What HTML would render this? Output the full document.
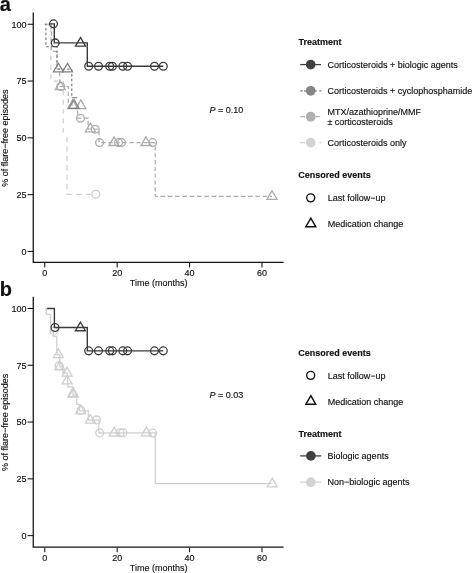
<!DOCTYPE html>
<html><head><meta charset="utf-8"><style>
html,body{margin:0;padding:0;background:#fff;width:472px;height:573px;overflow:hidden}
svg{display:block;will-change:transform}
text{font-family:"Liberation Sans",sans-serif;fill:#111;stroke:#111;stroke-width:0.15px}
</style></head><body>
<svg width="472" height="573" viewBox="0 0 472 573">
<text x="-0.2" y="11.2" font-size="20" font-weight="bold" text-anchor="start" >a</text>
<path d="M33.25,12.5V262.4H283.6" fill="none" stroke="#111" stroke-width="1.25"/>
<path d="M27.6,24.26H33" stroke="#111" stroke-width="1.05"/>
<text x="26.5" y="27.66" font-size="9" font-weight="normal" text-anchor="end" >100</text>
<path d="M27.6,81.05H33" stroke="#111" stroke-width="1.05"/>
<text x="26.5" y="84.45" font-size="9" font-weight="normal" text-anchor="end" >75</text>
<path d="M27.6,137.84H33" stroke="#111" stroke-width="1.05"/>
<text x="26.5" y="141.24" font-size="9" font-weight="normal" text-anchor="end" >50</text>
<path d="M27.6,194.63H33" stroke="#111" stroke-width="1.05"/>
<text x="26.5" y="198.03" font-size="9" font-weight="normal" text-anchor="end" >25</text>
<path d="M27.6,251.42H33" stroke="#111" stroke-width="1.05"/>
<text x="26.5" y="254.82" font-size="9" font-weight="normal" text-anchor="end" >0</text>
<path d="M44.77,263.0V267.6" stroke="#111" stroke-width="1.05"/>
<text x="44.77" y="275.7" font-size="9" font-weight="normal" text-anchor="middle" >0</text>
<path d="M117.17,263.0V267.6" stroke="#111" stroke-width="1.05"/>
<text x="117.17" y="275.7" font-size="9" font-weight="normal" text-anchor="middle" >20</text>
<path d="M189.57,263.0V267.6" stroke="#111" stroke-width="1.05"/>
<text x="189.57" y="275.7" font-size="9" font-weight="normal" text-anchor="middle" >40</text>
<path d="M261.97,263.0V267.6" stroke="#111" stroke-width="1.05"/>
<text x="261.97" y="275.7" font-size="9" font-weight="normal" text-anchor="middle" >60</text>
<text x="158.6" y="285.90" font-size="9" font-weight="normal" text-anchor="middle" >Time (months)</text>
<text x="0" y="0" font-size="9" font-weight="normal" text-anchor="middle" transform="translate(7.6,138.1) rotate(-90)">% of flare−free episodes</text>
<path d="M44.77,24.25H50.8V81.05H63.2V136" fill="none" stroke="#cdcdcd" stroke-width="1.2" stroke-dasharray="4.6,4.8"/>
<path d="M67.0,137.1V190" fill="none" stroke="#cdcdcd" stroke-width="1.2" stroke-dasharray="5.1,4.3"/>
<path d="M66.5,194.3H95.8" fill="none" stroke="#cdcdcd" stroke-width="1.2" stroke-dasharray="5.4,4.4"/>
<circle cx="95.80" cy="194.30" r="3.9" fill="none" stroke="#cdcdcd" stroke-width="1.3"/>
<path d="M44.77,24.25H51.5V51.3H57V69H59.7V86.5H68.25V105H77.5V118.1H88.1V129H99V142.6H155.2" fill="none" stroke="#ababab" stroke-width="1.2" stroke-dasharray="4.3,2.7"/>
<path d="M155.2,142.6V196.4" fill="none" stroke="#ababab" stroke-width="1.2" stroke-dasharray="4.1,2.7" stroke-dashoffset="2.9"/>
<path d="M155.2,196.4H272" fill="none" stroke="#ababab" stroke-width="1.2" stroke-dasharray="4.6,2.7" stroke-dashoffset="2.0"/>
<circle cx="60.80" cy="86.50" r="3.9" fill="none" stroke="#ababab" stroke-width="1.3"/>
<path d="M60.30,81.03L65.30,89.69L55.30,89.69Z" fill="none" stroke="#ababab" stroke-width="1.3" stroke-linejoin="miter"/>
<path d="M72.60,99.83L77.60,108.49L67.60,108.49Z" fill="none" stroke="#ababab" stroke-width="1.3" stroke-linejoin="miter"/>
<path d="M80.80,99.93L85.80,108.59L75.80,108.59Z" fill="none" stroke="#ababab" stroke-width="1.3" stroke-linejoin="miter"/>
<circle cx="80.50" cy="118.20" r="3.9" fill="none" stroke="#ababab" stroke-width="1.3"/>
<path d="M90.40,123.13L95.40,131.79L85.40,131.79Z" fill="none" stroke="#ababab" stroke-width="1.3" stroke-linejoin="miter"/>
<circle cx="95.30" cy="129.20" r="3.9" fill="none" stroke="#ababab" stroke-width="1.3"/>
<circle cx="99.60" cy="142.60" r="3.9" fill="none" stroke="#ababab" stroke-width="1.3"/>
<path d="M114.00,136.83L119.00,145.49L109.00,145.49Z" fill="none" stroke="#ababab" stroke-width="1.3" stroke-linejoin="miter"/>
<circle cx="118.50" cy="142.60" r="3.9" fill="none" stroke="#ababab" stroke-width="1.3"/>
<circle cx="121.50" cy="142.60" r="3.9" fill="none" stroke="#ababab" stroke-width="1.3"/>
<path d="M146.00,136.83L151.00,145.49L141.00,145.49Z" fill="none" stroke="#ababab" stroke-width="1.3" stroke-linejoin="miter"/>
<circle cx="152.70" cy="142.60" r="3.9" fill="none" stroke="#ababab" stroke-width="1.3"/>
<path d="M272.00,190.63L277.00,199.29L267.00,199.29Z" fill="none" stroke="#ababab" stroke-width="1.3" stroke-linejoin="miter"/>
<path d="M44.77,24.25H45.9V46.7H57V69H71.75V97.7" fill="none" stroke="#828282" stroke-width="1.25" stroke-dasharray="2.5,2.3"/>
<path d="M71.75,97.7H77.2" fill="none" stroke="#828282" stroke-width="1.1"/>
<path d="M58.40,63.23L63.40,71.89L53.40,71.89Z" fill="none" stroke="#828282" stroke-width="1.3" stroke-linejoin="miter"/>
<path d="M67.50,63.23L72.50,71.89L62.50,71.89Z" fill="none" stroke="#828282" stroke-width="1.3" stroke-linejoin="miter"/>
<path d="M74.00,99.63L79.00,108.29L69.00,108.29Z" fill="none" stroke="#828282" stroke-width="1.3" stroke-linejoin="miter"/>
<path d="M49.6,23.9H54.3V42.9H87.3V66.2H163.3" fill="none" stroke="#3a3a3a" stroke-width="1.4"/>
<circle cx="53.50" cy="23.85" r="3.9" fill="none" stroke="#3a3a3a" stroke-width="1.3"/>
<circle cx="55.20" cy="42.90" r="3.9" fill="none" stroke="#3a3a3a" stroke-width="1.3"/>
<path d="M80.50,37.43L85.50,46.09L75.50,46.09Z" fill="none" stroke="#3a3a3a" stroke-width="1.3" stroke-linejoin="miter"/>
<circle cx="88.70" cy="66.20" r="3.9" fill="none" stroke="#3a3a3a" stroke-width="1.3"/>
<circle cx="98.50" cy="66.20" r="3.9" fill="none" stroke="#3a3a3a" stroke-width="1.3"/>
<circle cx="109.70" cy="66.20" r="3.9" fill="none" stroke="#3a3a3a" stroke-width="1.3"/>
<circle cx="112.40" cy="66.20" r="3.9" fill="none" stroke="#3a3a3a" stroke-width="1.3"/>
<circle cx="122.80" cy="66.20" r="3.9" fill="none" stroke="#3a3a3a" stroke-width="1.3"/>
<circle cx="127.50" cy="66.20" r="3.9" fill="none" stroke="#3a3a3a" stroke-width="1.3"/>
<circle cx="154.50" cy="66.20" r="3.9" fill="none" stroke="#3a3a3a" stroke-width="1.3"/>
<circle cx="163.30" cy="66.20" r="3.9" fill="none" stroke="#3a3a3a" stroke-width="1.3"/>
<text x="209.5" y="112.8" font-size="9" font-weight="normal" text-anchor="start" ><tspan font-style="italic">P</tspan> = 0.10</text>
<text x="298.6" y="45" font-size="9" font-weight="bold" text-anchor="start" >Treatment</text>
<path d="M300.2,64.6H321" stroke="#404040" stroke-width="1.3"/>
<circle cx="310.7" cy="64.6" r="4.85" fill="#404040"/>
<text x="327.4" y="67.6" font-size="9" font-weight="normal" text-anchor="start" >Corticosteroids + biologic agents</text>
<path d="M300.2,90.8H302.9M304,90.8H307M314.5,90.8H316.8M319.2,90.8H321.4" stroke="#858585" stroke-width="1.3"/>
<circle cx="310.7" cy="90.8" r="4.85" fill="#858585"/>
<text x="327.4" y="93.8" font-size="9" font-weight="normal" text-anchor="start" >Corticosteroids + cyclophosphamide</text>
<path d="M300.2,116.7H305.2M315.5,116.7H320.2" stroke="#b0b0b0" stroke-width="1.3"/>
<circle cx="310.7" cy="116.7" r="4.85" fill="#b0b0b0"/>
<text x="327.4" y="114.8" font-size="9" font-weight="normal" text-anchor="start" >MTX/azathioprine/MMF</text>
<text x="327.4" y="125.1" font-size="9" font-weight="normal" text-anchor="start" >± corticosteroids</text>
<path d="M300.2,142.6H304.9M319.2,142.6H321.4" stroke="#d2d2d2" stroke-width="1.3"/>
<circle cx="310.7" cy="142.6" r="4.85" fill="#d2d2d2"/>
<text x="327.4" y="146.2" font-size="9" font-weight="normal" text-anchor="start" >Corticosteroids only</text>
<text x="298.2" y="178.1" font-size="9" font-weight="bold" text-anchor="start" >Censored events</text>
<circle cx="310.7" cy="197.85" r="4.0" fill="none" stroke="#111" stroke-width="1.4"/>
<text x="327.8" y="201.2" font-size="9" font-weight="normal" text-anchor="start" >Last follow−up</text>
<path d="M310.8,218.21L315.7,226.7L305.90000000000003,226.7Z" fill="none" stroke="#111" stroke-width="1.5"/>
<text x="327.8" y="227.2" font-size="9" font-weight="normal" text-anchor="start" >Medication change</text>
<text x="-0.3" y="296.1" font-size="20" font-weight="bold" text-anchor="start" >b</text>
<path d="M33.25,296.7V547.15H283.6" fill="none" stroke="#111" stroke-width="1.25"/>
<path d="M27.6,308.46H33" stroke="#111" stroke-width="1.05"/>
<text x="26.5" y="311.86" font-size="9" font-weight="normal" text-anchor="end" >100</text>
<path d="M27.6,365.25H33" stroke="#111" stroke-width="1.05"/>
<text x="26.5" y="368.65" font-size="9" font-weight="normal" text-anchor="end" >75</text>
<path d="M27.6,422.04H33" stroke="#111" stroke-width="1.05"/>
<text x="26.5" y="425.44" font-size="9" font-weight="normal" text-anchor="end" >50</text>
<path d="M27.6,478.83H33" stroke="#111" stroke-width="1.05"/>
<text x="26.5" y="482.23" font-size="9" font-weight="normal" text-anchor="end" >25</text>
<path d="M27.6,535.62H33" stroke="#111" stroke-width="1.05"/>
<text x="26.5" y="539.02" font-size="9" font-weight="normal" text-anchor="end" >0</text>
<path d="M44.77,547.75V552.35" stroke="#111" stroke-width="1.05"/>
<text x="44.77" y="560.7" font-size="9" font-weight="normal" text-anchor="middle" >0</text>
<path d="M117.17,547.75V552.35" stroke="#111" stroke-width="1.05"/>
<text x="117.17" y="560.7" font-size="9" font-weight="normal" text-anchor="middle" >20</text>
<path d="M189.57,547.75V552.35" stroke="#111" stroke-width="1.05"/>
<text x="189.57" y="560.7" font-size="9" font-weight="normal" text-anchor="middle" >40</text>
<path d="M261.97,547.75V552.35" stroke="#111" stroke-width="1.05"/>
<text x="261.97" y="560.7" font-size="9" font-weight="normal" text-anchor="middle" >60</text>
<text x="158.6" y="570.90" font-size="9" font-weight="normal" text-anchor="middle" >Time (months)</text>
<text x="0" y="0" font-size="9" font-weight="normal" text-anchor="middle" transform="translate(7.6,422.29999999999995) rotate(-90)">% of flare−free episodes</text>
<path d="M45.1,308.5H46.3V314.3H50.6V330.9H53.4V336.4H56.8V354.65H59.8V366.85H63V373.15H67.3V381H67.8V386.9H72.9V395.2H76.8V404.3H79.6V410.8H88.3V420.1H98.8V432.9H155.2V483.7H272.3" fill="none" stroke="#cecece" stroke-width="1.2"/>
<circle cx="53.80" cy="330.90" r="3.9" fill="none" stroke="#cecece" stroke-width="1.3"/>
<path d="M58.40,348.88L63.40,357.54L53.40,357.54Z" fill="none" stroke="#cecece" stroke-width="1.3" stroke-linejoin="miter"/>
<path d="M59.80,361.08L64.80,369.74L54.80,369.74Z" fill="none" stroke="#cecece" stroke-width="1.3" stroke-linejoin="miter"/>
<circle cx="59.10" cy="365.70" r="3.9" fill="none" stroke="#cecece" stroke-width="1.3"/>
<path d="M67.10,367.38L72.10,376.04L62.10,376.04Z" fill="none" stroke="#cecece" stroke-width="1.3" stroke-linejoin="miter"/>
<path d="M67.10,375.23L72.10,383.89L62.10,383.89Z" fill="none" stroke="#cecece" stroke-width="1.3" stroke-linejoin="miter"/>
<path d="M72.70,388.13L77.70,396.79L67.70,396.79Z" fill="none" stroke="#cecece" stroke-width="1.3" stroke-linejoin="miter"/>
<path d="M73.50,388.33L78.50,396.99L68.50,396.99Z" fill="none" stroke="#cecece" stroke-width="1.3" stroke-linejoin="miter"/>
<path d="M80.70,405.13L85.70,413.79L75.70,413.79Z" fill="none" stroke="#cecece" stroke-width="1.3" stroke-linejoin="miter"/>
<circle cx="81.00" cy="410.30" r="3.9" fill="none" stroke="#cecece" stroke-width="1.3"/>
<path d="M90.40,414.53L95.40,423.19L85.40,423.19Z" fill="none" stroke="#cecece" stroke-width="1.3" stroke-linejoin="miter"/>
<circle cx="96.40" cy="419.90" r="3.9" fill="none" stroke="#cecece" stroke-width="1.3"/>
<circle cx="99.70" cy="432.90" r="3.9" fill="none" stroke="#cecece" stroke-width="1.3"/>
<path d="M114.20,427.33L119.20,435.99L109.20,435.99Z" fill="none" stroke="#cecece" stroke-width="1.3" stroke-linejoin="miter"/>
<circle cx="120.20" cy="432.70" r="3.9" fill="none" stroke="#cecece" stroke-width="1.3"/>
<circle cx="123.00" cy="432.70" r="3.9" fill="none" stroke="#cecece" stroke-width="1.3"/>
<path d="M146.40,427.13L151.40,435.79L141.40,435.79Z" fill="none" stroke="#cecece" stroke-width="1.3" stroke-linejoin="miter"/>
<circle cx="152.70" cy="433.10" r="3.9" fill="none" stroke="#cecece" stroke-width="1.3"/>
<path d="M272.30,478.13L277.30,486.79L267.30,486.79Z" fill="none" stroke="#cecece" stroke-width="1.3" stroke-linejoin="miter"/>
<g transform="translate(0,0.45)">
<path d="M47.1,308.1H54.4V327.09999999999997H87.3V350.4H163.3" fill="none" stroke="#3a3a3a" stroke-width="1.4"/>
<circle cx="55.00" cy="327.10" r="3.9" fill="none" stroke="#3a3a3a" stroke-width="1.3"/>
<path d="M80.40,321.63L85.40,330.29L75.40,330.29Z" fill="none" stroke="#3a3a3a" stroke-width="1.3" stroke-linejoin="miter"/>
<circle cx="88.70" cy="350.40" r="3.9" fill="none" stroke="#3a3a3a" stroke-width="1.3"/>
<circle cx="98.50" cy="350.40" r="3.9" fill="none" stroke="#3a3a3a" stroke-width="1.3"/>
<circle cx="109.70" cy="350.40" r="3.9" fill="none" stroke="#3a3a3a" stroke-width="1.3"/>
<circle cx="112.40" cy="350.40" r="3.9" fill="none" stroke="#3a3a3a" stroke-width="1.3"/>
<circle cx="122.80" cy="350.40" r="3.9" fill="none" stroke="#3a3a3a" stroke-width="1.3"/>
<circle cx="127.50" cy="350.40" r="3.9" fill="none" stroke="#3a3a3a" stroke-width="1.3"/>
<circle cx="154.50" cy="350.40" r="3.9" fill="none" stroke="#3a3a3a" stroke-width="1.3"/>
<circle cx="163.30" cy="350.40" r="3.9" fill="none" stroke="#3a3a3a" stroke-width="1.3"/>
</g>
<text x="209.5" y="397.9" font-size="9" font-weight="normal" text-anchor="start" ><tspan font-style="italic">P</tspan> = 0.03</text>
<text x="298.2" y="355.6" font-size="9" font-weight="bold" text-anchor="start" >Censored events</text>
<circle cx="310.7" cy="375.35" r="4.0" fill="none" stroke="#111" stroke-width="1.4"/>
<text x="327.8" y="378.7" font-size="9" font-weight="normal" text-anchor="start" >Last follow−up</text>
<path d="M310.8,395.71L315.7,404.2L305.90000000000003,404.2Z" fill="none" stroke="#111" stroke-width="1.5"/>
<text x="327.8" y="404.7" font-size="9" font-weight="normal" text-anchor="start" >Medication change</text>
<text x="298.6" y="436.9" font-size="9" font-weight="bold" text-anchor="start" >Treatment</text>
<path d="M300.2,455.9H321.2" stroke="#404040" stroke-width="1.3"/><circle cx="310.9" cy="455.9" r="4.85" fill="#404040"/>
<text x="327.6" y="458.9" font-size="9" font-weight="normal" text-anchor="start" >Biologic agents</text>
<path d="M300.2,482.2H321.2" stroke="#d2d2d2" stroke-width="1.3"/><circle cx="310.9" cy="482.2" r="4.85" fill="#d2d2d2"/>
<text x="327.6" y="485.1" font-size="9" font-weight="normal" text-anchor="start" >Non−biologic agents</text>
</svg>
</body></html>
